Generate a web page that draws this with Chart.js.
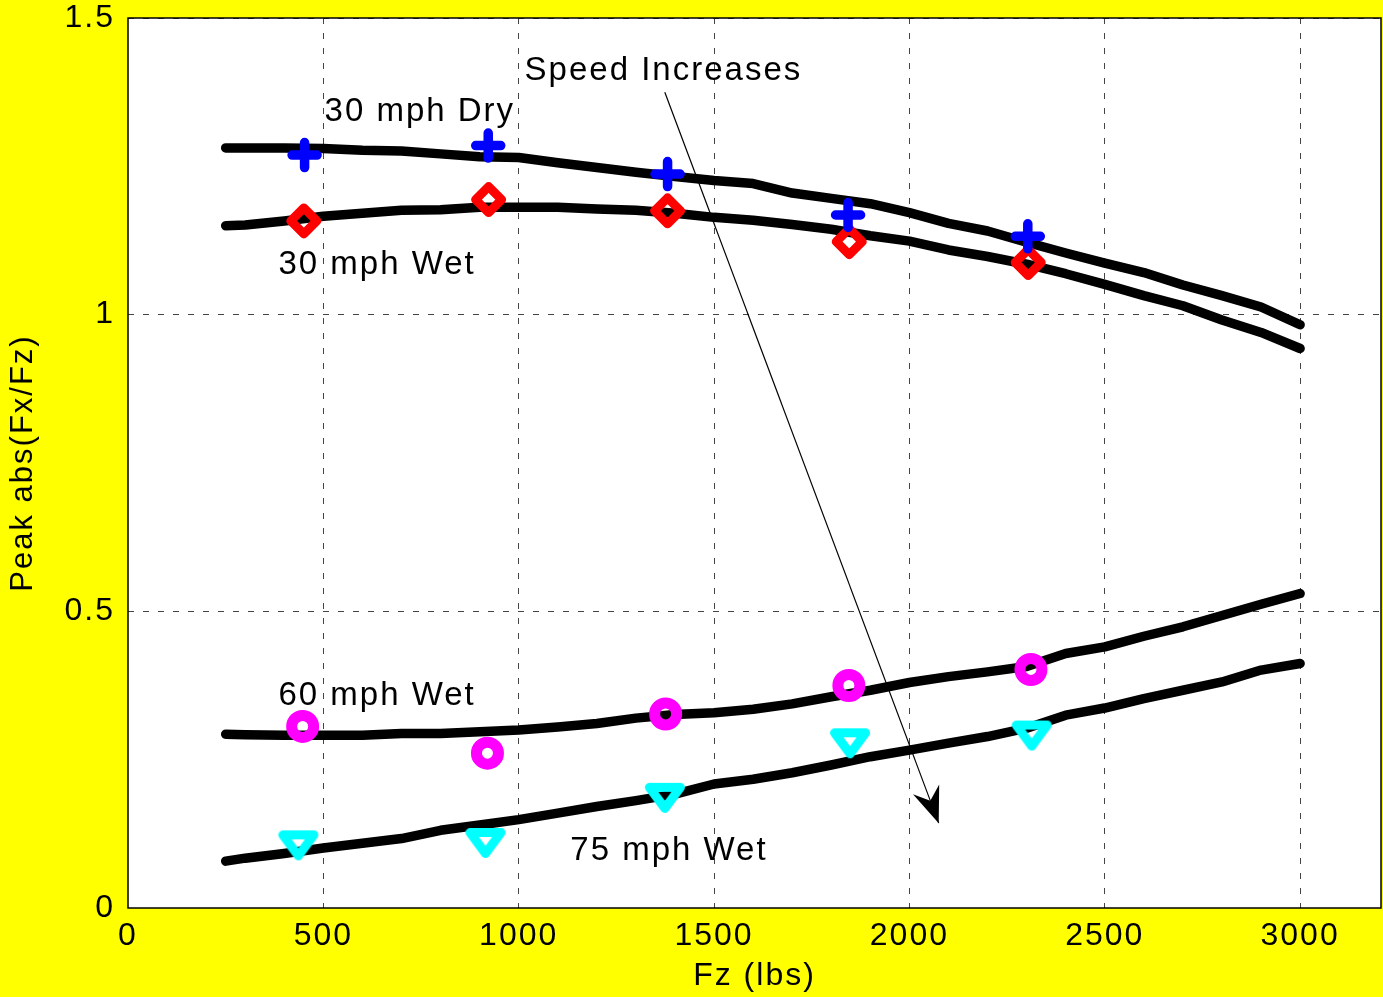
<!DOCTYPE html>
<html>
<head>
<meta charset="utf-8">
<script src="https://cdn.jsdelivr.net/npm/chart.js@4/dist/chart.umd.min.js"></script>
<style>
  html, body { margin: 0; padding: 0; background: #ffff00; overflow: hidden; }
  #mu-chart { display: block; }
</style>
</head>
<body>
<canvas id="mu-chart" width="1383" height="997"></canvas>
<script>
// Fz (lbs) where the model curves are sampled
const fzGrid = [250, 300, 400, 500, 600, 700, 800, 900, 1000, 1100, 1200, 1300, 1400, 1500,
    1600, 1700, 1800, 1900, 2000, 2100, 2200, 2300, 2400, 2500, 2600, 2700, 2800, 2900, 3000];

// model curves, peak abs(Fx/Fz)
const dry30Model = [1.281, 1.281, 1.281, 1.280, 1.277, 1.276, 1.271, 1.266, 1.265, 1.256, 1.248, 1.240, 1.233, 1.226,
    1.221, 1.205, 1.196, 1.187, 1.172, 1.154, 1.141, 1.122, 1.104, 1.087, 1.071, 1.050, 1.032, 1.013, 0.983];
const wet30Model = [1.150, 1.151, 1.158, 1.166, 1.171, 1.176, 1.177, 1.181, 1.181, 1.181, 1.178, 1.176, 1.171, 1.164,
    1.159, 1.152, 1.144, 1.133, 1.124, 1.109, 1.098, 1.085, 1.069, 1.051, 1.032, 1.015, 0.991, 0.970, 0.943];
const wet60Model = [0.293, 0.292, 0.291, 0.291, 0.291, 0.294, 0.294, 0.297, 0.300, 0.305, 0.311, 0.320, 0.326, 0.329,
    0.335, 0.344, 0.356, 0.367, 0.380, 0.390, 0.398, 0.407, 0.429, 0.440, 0.458, 0.474, 0.493, 0.512, 0.530];
const wet75Model = [0.079, 0.084, 0.092, 0.101, 0.109, 0.117, 0.131, 0.140, 0.149, 0.160, 0.171, 0.181, 0.192, 0.209,
    0.217, 0.228, 0.241, 0.255, 0.266, 0.278, 0.289, 0.303, 0.325, 0.337, 0.353, 0.367, 0.381, 0.401, 0.412];

// measured points
const dry30Fz = [452, 922, 1381, 1843, 2303];
const dry30Test = [1.269, 1.285, 1.237, 1.168, 1.132];
const wet30Fz = [450, 923, 1381, 1846, 2304];
const wet30Test = [1.158, 1.194, 1.175, 1.123, 1.088];
const wet60Fz = [447, 920, 1376, 1845, 2311];
const wet60Test = [0.306, 0.261, 0.327, 0.375, 0.402];
const wet75Fz = [436, 915, 1374, 1848, 2313];
const wet75Test = [0.109, 0.113, 0.189, 0.281, 0.294];

// axes
const xMax = 3207;
const xTicks = [0, 500, 1000, 1500, 2000, 2500, 3000];
const yMax = 1.5;
const yTicks = [0, 0.5, 1, 1.5];
const xTitle = 'Fz (lbs)';
const yTitle = 'Peak abs(Fx/Fz)';

// text on the plot, [text, Fz, value]
const notes = [
    ['30 mph Dry', 503, 1.342],
    ['30 mph Wet', 385, 1.084],
    ['60 mph Wet', 385, 0.357],
    ['75 mph Wet', 1132, 0.097],
    ['Speed Increases', 1015, 1.410]
];
const arrowFrom = [1374, 1.375];
const arrowTo = [2075, 0.143];

const FONT = '"Liberation Sans", Arial, Helvetica, sans-serif';

function pts(xs, ys) {
    return xs.map((x, i) => ({x: x, y: ys[i]}));
}

// down triangle marker (wider than tall, like the original)
function downTriangle() {
    const c = document.createElement('canvas');
    c.width = 46; c.height = 46;
    const g = c.getContext('2d');
    g.strokeStyle = '#00ffff';
    g.lineWidth = 9;
    g.lineJoin = 'round';
    g.beginPath();
    g.moveTo(7.5, 14.5);
    g.lineTo(38.5, 14.5);
    g.lineTo(23, 35.5);
    g.closePath();
    g.stroke();
    return c;
}

function curve(data) {
    return {
        data: data,
        borderColor: '#000',
        borderWidth: 9.5,
        borderCapStyle: 'round',
        borderJoinStyle: 'round',
        pointRadius: 0,
        fill: false,
        tension: 0,
        order: 2
    };
}

function marks(data, style, color, radius, width) {
    return {
        data: data,
        showLine: false,
        pointStyle: style,
        pointRadius: radius,
        pointBorderWidth: width,
        pointBorderColor: color,
        pointBackgroundColor: 'rgba(0,0,0,0)',
        order: 0
    };
}

const paper = {
    id: 'paper',
    beforeDraw(chart) {
        const {ctx, chartArea: a} = chart;
        ctx.save();
        ctx.fillStyle = '#ffff00';
        ctx.fillRect(0, 0, chart.width, chart.height);
        ctx.fillStyle = '#ffffff';
        ctx.fillRect(a.left, a.top, a.right - a.left, a.bottom - a.top);
        ctx.restore();
        ctx.letterSpacing = '2px';
    },
    beforeDatasetsDraw(chart) {
        const {ctx, chartArea: a} = chart;
        ctx.save();
        ctx.strokeStyle = '#000';
        ctx.lineWidth = 1.5;
        ctx.strokeRect(a.left, a.top, a.right - a.left, a.bottom - a.top);
        ctx.restore();
        ctx.lineJoin = 'round';
        ctx.lineCap = 'round';
    },
    afterDatasetsDraw(chart) {
        const ctx = chart.ctx;
        const xs = chart.scales.x, ys = chart.scales.y;
        ctx.lineJoin = 'miter';
        ctx.lineCap = 'butt';

        // arrow head
        const x0 = xs.getPixelForValue(arrowFrom[0]), y0 = ys.getPixelForValue(arrowFrom[1]);
        const x1 = xs.getPixelForValue(arrowTo[0]), y1 = ys.getPixelForValue(arrowTo[1]);
        const len = Math.hypot(x1 - x0, y1 - y0);
        const ux = (x1 - x0) / len, uy = (y1 - y0) / len;
        const nx = -uy, ny = ux;
        ctx.save();
        ctx.fillStyle = '#000';
        ctx.beginPath();
        ctx.moveTo(x1, y1);
        ctx.lineTo(x1 - ux * 36 + nx * 14, y1 - uy * 36 + ny * 14);
        ctx.lineTo(x1 - ux * 24, y1 - uy * 24);
        ctx.lineTo(x1 - ux * 36 - nx * 14, y1 - uy * 36 - ny * 14);
        ctx.closePath();
        ctx.fill();
        ctx.restore();

        ctx.save();
        ctx.font = '33px ' + FONT;
        ctx.fillStyle = '#000';
        ctx.textAlign = 'left';
        ctx.textBaseline = 'middle';
        ctx.letterSpacing = '2px';
        notes.forEach(n => {
            ctx.fillText(n[0], xs.getPixelForValue(n[1]), ys.getPixelForValue(n[2]));
        });
        ctx.restore();
    }
};

const gridColor = c => (c.tick && c.tick.value === 0) ? 'rgba(0,0,0,0)' : '#444';

const ctx = document.getElementById('mu-chart').getContext('2d');
const chart = new Chart(ctx, {
    type: 'line',
    data: {
        datasets: [
            marks(pts(dry30Fz, dry30Test), 'cross', '#0000ff', 12.5, 9.5),
            marks(pts(wet30Fz, wet30Test), 'rectRot', '#ff0000', 13, 9),
            marks(pts(wet60Fz, wet60Test), 'circle', '#ff00ff', 11, 11),
            marks(pts(wet75Fz, wet75Test), downTriangle(), '#00ffff', 15, 1),
            {
                data: pts([arrowFrom[0], arrowTo[0]], [arrowFrom[1], arrowTo[1]]),
                borderColor: '#000',
                borderWidth: 1.2,
                pointRadius: 0,
                order: 1
            },
            curve(pts(fzGrid, dry30Model)),
            curve(pts(fzGrid, wet30Model)),
            curve(pts(fzGrid, wet60Model)),
            curve(pts(fzGrid, wet75Model))
        ]
    },
    options: {
        responsive: false,
        animation: false,
        devicePixelRatio: 1,
        events: [],
        layout: {
            autoPadding: false,
            padding: {top: 18, right: 2, left: 0, bottom: 0}
        },
        plugins: {
            legend: {display: false},
            tooltip: {enabled: false}
        },
        scales: {
            x: {
                type: 'linear',
                min: 0,
                max: xMax,
                afterBuildTicks: s => { s.ticks = xTicks.map(v => ({value: v})); },
                afterFit: s => {
                    s.height = 89;
                    s.paddingLeft = 0;
                    s.paddingRight = 0;
                },
                border: {display: false, dash: [6, 9]},
                grid: {
                    drawTicks: false,
                    lineWidth: 1,
                    color: gridColor
                },
                ticks: {
                    maxRotation: 0,
                    autoSkip: false,
                    padding: 12,
                    color: '#000',
                    font: {family: FONT, size: 32, lineHeight: 1},
                    callback: v => String(v)
                },
                title: {
                    display: true,
                    text: xTitle,
                    color: '#000',
                    font: {family: FONT, size: 32, lineHeight: 1.2},
                    padding: {top: 0, bottom: 2}
                }
            },
            y: {
                min: 0,
                max: yMax,
                afterBuildTicks: s => { s.ticks = yTicks.map(v => ({value: v})); },
                afterFit: s => {
                    s.width = 128;
                    s.paddingTop = 0;
                    s.paddingBottom = 0;
                },
                border: {display: false, dash: [6, 9]},
                grid: {
                    drawTicks: false,
                    lineWidth: 1,
                    color: gridColor
                },
                ticks: {
                    padding: 13,
                    color: '#000',
                    font: {family: FONT, size: 32, lineHeight: 1},
                    callback: v => String(v)
                },
                title: {
                    display: true,
                    text: yTitle,
                    color: '#000',
                    font: {family: FONT, size: 31, lineHeight: 1.2},
                    padding: {top: 5, bottom: 0}
                }
            }
        }
    },
    plugins: [paper]
});
</script>
</body>
</html>
